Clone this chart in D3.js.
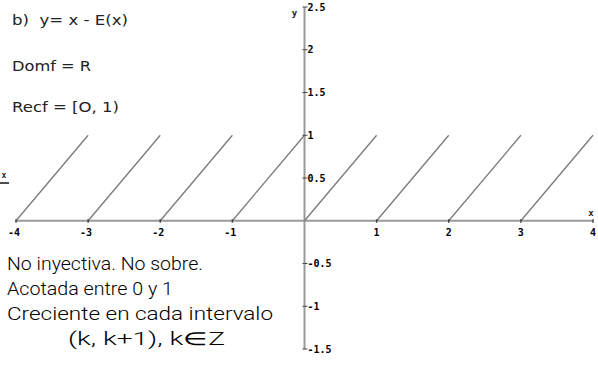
<!DOCTYPE html>
<html>
<head>
<meta charset="utf-8">
<script src="https://cdn.jsdelivr.net/npm/d3@7"></script>
<style>
  html, body { margin: 0; padding: 0; background: #fff; }
  svg { display: block; }
  text { white-space: pre; }
</style>
</head>
<body>
<svg id="chart" width="598" height="369"></svg>
<script>
// Integer starts of each branch of f(x) = x - E(x) on [-4, 4]
const branchStarts = [-4, -3, -2, -1, 0, 1, 2, 3];
const xTicks = [-4, -3, -2, -1, 1, 2, 3, 4];
const yTicks = [-1.5, -1, -0.5, 0.5, 1, 1.5, 2, 2.5];
const headerLines = ["b)  y= x - E(x)", "Domf = R", "Recf = [O, 1)"];
const noteLines = ["No inyectiva. No sobre.", "Acotada entre 0 y 1", "Creciente en cada intervalo", "(k, k+1), k\u2208Z"];

const svg = d3.select("#chart");
const x = d3.scaleLinear().domain([-4, 4]).range([16, 593]);
const y = d3.scaleLinear().domain([-1.5, 2.5]).range([349, 7]);

const f = v => v - Math.floor(v);

// axes
const axisColor = "#9a9a9a";
svg.append("line")
  .attr("x1", x(-4)).attr("x2", x(4))
  .attr("y1", y(0)).attr("y2", y(0))
  .attr("stroke", axisColor).attr("stroke-width", 2);
svg.append("line")
  .attr("x1", x(0)).attr("x2", x(0))
  .attr("y1", y(2.5)).attr("y2", y(-1.5))
  .attr("stroke", axisColor).attr("stroke-width", 2);

// branches: from (k, 0) up to (k+1, 1)
const line = d3.line().x(d => x(d[0])).y(d => y(d[1]));
svg.selectAll("path.branch")
  .data(branchStarts)
  .join("path")
  .attr("class", "branch")
  .attr("d", k => line([[k, f(k)], [k + 1, f(k + 0.999999) + 0.000001]]))
  .attr("fill", "none")
  .attr("stroke", "#7a7a7a")
  .attr("stroke-width", 1.3);

// tick marks and labels
const tickFont = "'DejaVu Sans Mono', monospace";
svg.selectAll("line.xt").data(xTicks).join("line")
  .attr("x1", d => x(d)).attr("x2", d => x(d))
  .attr("y1", y(0) - 1.5).attr("y2", y(0) + 2)
  .attr("stroke", "#444").attr("stroke-width", 1.5);
svg.selectAll("text.xl").data(xTicks).join("text")
  .attr("x", d => x(d) + (d < 0 ? -2 : 0)).attr("y", y(0) + 15)
  .attr("text-anchor", "middle")
  .attr("font-family", tickFont).attr("font-weight", "bold")
  .attr("font-size", 10).attr("fill", "#000")
  .text(d => d < 0 ? "-" + Math.abs(d) : d);

svg.selectAll("line.yt").data(yTicks).join("line")
  .attr("x1", x(0) - 2).attr("x2", x(0) + 3)
  .attr("y1", d => y(d)).attr("y2", d => y(d))
  .attr("stroke", "#444").attr("stroke-width", 1);
svg.selectAll("text.yl").data(yTicks).join("text")
  .attr("x", x(0) + 3).attr("y", d => y(d) + 3.5)
  .attr("font-family", tickFont).attr("font-weight", "bold")
  .attr("font-size", 10).attr("fill", "#000")
  .text(d => d < 0 ? "-" + Math.abs(d) : String(d));

// axis names
svg.append("text").attr("x", x(4) - 2).attr("y", y(0) - 5)
  .attr("text-anchor", "middle")
  .attr("font-family", tickFont).attr("font-weight", "bold")
  .attr("font-size", 9).attr("fill", "#222").text("x");
svg.append("text").attr("x", x(0) - 10).attr("y", y(2.5) + 9)
  .attr("text-anchor", "middle")
  .attr("font-family", tickFont).attr("font-weight", "bold")
  .attr("font-size", 9).attr("fill", "#222").text("y");

// small x over a bar at the left edge
svg.append("text").attr("x", 4).attr("y", 178)
  .attr("text-anchor", "middle")
  .attr("font-family", tickFont).attr("font-weight", "bold")
  .attr("font-size", 8).attr("fill", "#222").text("x");
svg.append("line").attr("x1", 0).attr("x2", 9).attr("y1", 183).attr("y2", 183)
  .attr("stroke", "#111").attr("stroke-width", 1.5);

// header text
const headerY = [25, 71, 112];
const headerW = [116, 79, 107];
svg.selectAll("text.head").data(headerLines).join("text")
  .attr("class", "head")
  .attr("x", 12).attr("y", (d, i) => headerY[i])
  .attr("font-family", "'DejaVu Sans', sans-serif")
  .attr("font-size", 14).attr("fill", "#222")
  .attr("textLength", (d, i) => headerW[i])
  .attr("lengthAdjust", "spacingAndGlyphs")
  .text(d => d);

// notes below the graph
const noteX = [7, 7, 7, 68];
const noteY = [270, 295, 320, 345];
const noteW = [196, 166, 266, 157];
svg.selectAll("text.note").data(noteLines).join("text")
  .attr("class", "note")
  .attr("x", (d, i) => noteX[i]).attr("y", (d, i) => noteY[i])
  .attr("font-family", "Roboto, 'Liberation Sans', sans-serif")
  .attr("font-weight", 300)
  .attr("font-size", 18).attr("fill", "#000")
  .attr("textLength", (d, i) => noteW[i])
  .attr("lengthAdjust", "spacingAndGlyphs")
  .text(d => d);
</script>
</body>
</html>
